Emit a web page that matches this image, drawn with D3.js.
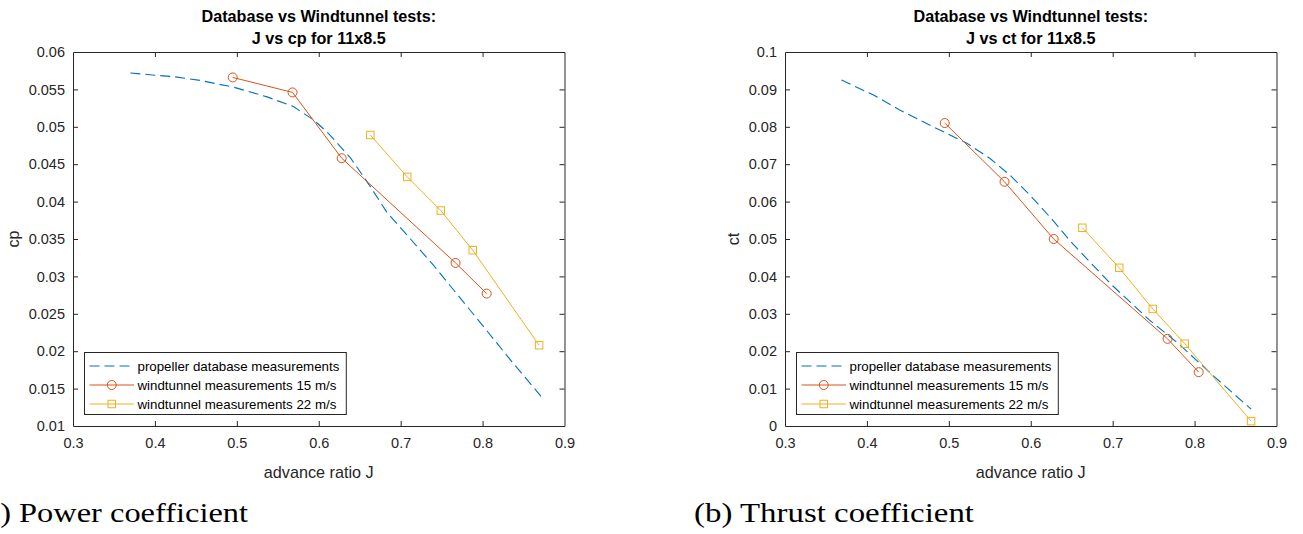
<!DOCTYPE html>
<html>
<head>
<meta charset="utf-8">
<script src="https://cdn.jsdelivr.net/npm/d3@7"></script>
<style>
  html, body { margin: 0; padding: 0; background: #fff; }
  svg { display: block; font-family: "Liberation Sans", Arial, Helvetica, sans-serif; }
</style>
</head>
<body>
<svg id="fig" width="1303" height="534"></svg>
<script>
// ---- data ------------------------------------------------------------
// propeller database (APC 11x8.5), power coefficient vs advance ratio
const dbJ_cp = [0.370, 0.400, 0.423, 0.455, 0.496, 0.537, 0.569, 0.594, 0.612, 0.639, 0.663, 0.683, 0.712, 0.740, 0.772, 0.804, 0.832, 0.875];
const dbCp   = [0.0572, 0.0569, 0.0567, 0.0562, 0.0553, 0.0540, 0.0527, 0.0509, 0.0491, 0.0458, 0.0420, 0.0386, 0.0350, 0.0315, 0.0272, 0.0229, 0.0191, 0.0135];

// propeller database, thrust coefficient vs advance ratio
const dbJ_ct = [0.369, 0.408, 0.440, 0.481, 0.522, 0.550, 0.575, 0.600, 0.625, 0.650, 0.675, 0.700, 0.744, 0.781, 0.822, 0.869];
const dbCt   = [0.0925, 0.0885, 0.0845, 0.0800, 0.0756, 0.0716, 0.0670, 0.0615, 0.0555, 0.0490, 0.0432, 0.0375, 0.0285, 0.0219, 0.0136, 0.0045];

// windtunnel runs at 15 m/s
const wt15J  = [0.495, 0.568, 0.628, 0.767, 0.805];
const wt15Cp = [0.0566, 0.0546, 0.0458, 0.0318, 0.0277];
const wt15Ct = [0.0810, 0.0653, 0.0500, 0.0233, 0.0144];

// windtunnel runs at 22 m/s
const wt22J  = [0.663, 0.708, 0.749, 0.788, 0.869];
const wt22Cp = [0.0489, 0.0433, 0.0388, 0.0335, 0.0208];
const wt22Ct = [0.0530, 0.0423, 0.0313, 0.0220, 0.0013];

// axis ticks
const jTicks  = [0.3, 0.4, 0.5, 0.6, 0.7, 0.8, 0.9];
const cpTicks = [0.01, 0.015, 0.02, 0.025, 0.03, 0.035, 0.04, 0.045, 0.05, 0.055, 0.06];
const ctTicks = [0, 0.01, 0.02, 0.03, 0.04, 0.05, 0.06, 0.07, 0.08, 0.09, 0.1];

const seriesNames = [
  "propeller database measurements",
  "windtunnel measurements 15 m/s",
  "windtunnel measurements 22 m/s"
];

// ---- styling ---------------------------------------------------------
const AX = "#262626";
const C_DB = "#0072BD", C_15 = "#D95319", C_22 = "#EDB120";
const TICK_FS = 14.5, LABEL_FS = 16.2, TITLE_FS = 16.2, LEGEND_FS = 13.3;

const svg = d3.select("#fig");
const zip = (xs, ys) => xs.map((x, i) => [x, ys[i]]);
const fmt = d => String(+d.toFixed(4));

const panels = [
  {
    left: 73, right: 564.5, top: 52, bottom: 426,
    yTicks: cpTicks, yLabel: "cp", titleLine2: "J vs cp for 11x8.5",
    db: zip(dbJ_cp, dbCp), w15: zip(wt15J, wt15Cp), w22: zip(wt22J, wt22Cp),
    caption: "(a) Power coefficient", capX: -25, capLen: 273
  },
  {
    left: 785, right: 1276.5, top: 52, bottom: 426,
    yTicks: ctTicks, yLabel: "ct", titleLine2: "J vs ct for 11x8.5",
    db: zip(dbJ_ct, dbCt), w15: zip(wt15J, wt15Ct), w22: zip(wt22J, wt22Ct),
    caption: "(b) Thrust coefficient", capX: 694, capLen: 280
  }
];

function circleMark(g, x, y, color) {
  g.append("circle").attr("cx", x).attr("cy", y).attr("r", 4.5)
    .attr("fill", "none").attr("stroke", color).attr("stroke-width", 1);
}
function squareMark(g, x, y, color) {
  const s = 7.5;
  g.append("rect").attr("x", x - s / 2).attr("y", y - s / 2).attr("width", s).attr("height", s)
    .attr("fill", "none").attr("stroke", color).attr("stroke-width", 1);
}

panels.forEach(p => {
  const x = d3.scaleLinear().domain([jTicks[0], jTicks[jTicks.length - 1]]).range([p.left, p.right]);
  const y = d3.scaleLinear().domain([p.yTicks[0], p.yTicks[p.yTicks.length - 1]]).range([p.bottom, p.top]);
  const g = svg.append("g");

  // axes with inward ticks on all four sides
  const styleAxis = sel => {
    sel.selectAll("path.domain").attr("stroke", AX).attr("stroke-width", 1);
    sel.selectAll(".tick line").attr("stroke", AX).attr("stroke-width", 1);
    sel.selectAll(".tick text").attr("fill", AX).attr("font-size", TICK_FS)
      .attr("font-family", "'Liberation Sans', Arial, sans-serif");
  };
  const xb = g.append("g").attr("transform", `translate(0,${p.bottom})`)
    .call(d3.axisBottom(x).tickValues(jTicks).tickFormat(fmt).tickSizeInner(-5).tickSizeOuter(0).tickPadding(11.7));
  const xt = g.append("g").attr("transform", `translate(0,${p.top})`)
    .call(d3.axisTop(x).tickValues(jTicks).tickFormat("").tickSizeInner(-5).tickSizeOuter(0));
  const yl = g.append("g").attr("transform", `translate(${p.left},0)`)
    .call(d3.axisLeft(y).tickValues(p.yTicks).tickFormat(fmt).tickSizeInner(-5).tickSizeOuter(0).tickPadding(8));
  const yr = g.append("g").attr("transform", `translate(${p.right},0)`)
    .call(d3.axisRight(y).tickValues(p.yTicks).tickFormat("").tickSizeInner(-5).tickSizeOuter(0));
  [xb, xt, yl, yr].forEach(styleAxis);
  // drop tick marks that sit on the box corners
  [xb, xt].forEach(a => a.selectAll(".tick line").filter(d => d === jTicks[0] || d === jTicks[jTicks.length - 1]).remove());
  [yl, yr].forEach(a => a.selectAll(".tick line").filter(d => d === p.yTicks[0] || d === p.yTicks[p.yTicks.length - 1]).remove());

  // data lines
  const line = d3.line().x(d => x(d[0])).y(d => y(d[1]));
  g.append("path").datum(p.db).attr("d", line).attr("fill", "none")
    .attr("stroke", C_DB).attr("stroke-width", 1.1).attr("stroke-dasharray", "10,5");
  g.append("path").datum(p.w15).attr("d", line).attr("fill", "none")
    .attr("stroke", C_15).attr("stroke-width", 1);
  g.append("path").datum(p.w22).attr("d", line).attr("fill", "none")
    .attr("stroke", C_22).attr("stroke-width", 1);
  p.w15.forEach(d => circleMark(g, x(d[0]), y(d[1]), C_15));
  p.w22.forEach(d => squareMark(g, x(d[0]), y(d[1]), C_22));

  // title
  const cx = (p.left + p.right) / 2;
  const title = g.append("text").attr("text-anchor", "middle").attr("font-weight", "bold")
    .attr("font-size", TITLE_FS).attr("fill", "#000");
  title.append("tspan").attr("x", cx).attr("y", 22).text("Database vs Windtunnel tests:");
  title.append("tspan").attr("x", cx).attr("y", 43.5).text(p.titleLine2);

  // axis labels
  g.append("text").attr("x", cx).attr("y", 478).attr("text-anchor", "middle")
    .attr("font-size", LABEL_FS).attr("fill", AX).text("advance ratio J");
  let minLabelX = Infinity;
  yl.selectAll(".tick text").each(function () {
    const b = this.getBBox();
    minLabelX = Math.min(minLabelX, p.left - 8 - b.width);
  });
  const ylx = minLabelX - 9.5;
  g.append("text").attr("transform", `translate(${ylx},${(p.top + p.bottom) / 2}) rotate(-90)`)
    .attr("text-anchor", "middle").attr("font-size", LABEL_FS).attr("fill", AX).text(p.yLabel);

  // legend (lower left corner)
  const lg = g.append("g");
  const boxX = p.left + 11.5, boxY = 352.5, rowY = [366, 385, 404];
  const sx0 = p.left + 16.5, sx1 = p.left + 61, tx = p.left + 64.5;
  const box = lg.append("rect").attr("x", boxX).attr("y", boxY).attr("height", 62)
    .attr("fill", "#fff").attr("stroke", AX).attr("stroke-width", 1);
  lg.append("line").attr("x1", sx0).attr("x2", sx1).attr("y1", rowY[0]).attr("y2", rowY[0])
    .attr("stroke", C_DB).attr("stroke-width", 1.1).attr("stroke-dasharray", "10,5");
  lg.append("line").attr("x1", sx0).attr("x2", sx1).attr("y1", rowY[1]).attr("y2", rowY[1])
    .attr("stroke", C_15).attr("stroke-width", 1);
  circleMark(lg, (sx0 + sx1) / 2, rowY[1], C_15);
  lg.append("line").attr("x1", sx0).attr("x2", sx1).attr("y1", rowY[2]).attr("y2", rowY[2])
    .attr("stroke", C_22).attr("stroke-width", 1);
  squareMark(lg, (sx0 + sx1) / 2, rowY[2], C_22);
  let maxW = 0;
  seriesNames.forEach((name, i) => {
    const t = lg.append("text").attr("x", tx).attr("y", rowY[i]).attr("dy", "0.35em")
      .attr("font-size", LEGEND_FS).attr("fill", "#000").text(name);
    maxW = Math.max(maxW, t.node().getComputedTextLength());
  });
  box.attr("width", tx + maxW + 7 - boxX);

  // sub-figure caption
  svg.append("text").attr("x", p.capX).attr("y", 522)
    .attr("font-family", "'Liberation Serif', 'Times New Roman', serif")
    .attr("font-size", 28).attr("fill", "#000")
    .attr("textLength", p.capLen).attr("lengthAdjust", "spacingAndGlyphs")
    .text(p.caption);
});
</script>
</body>
</html>
